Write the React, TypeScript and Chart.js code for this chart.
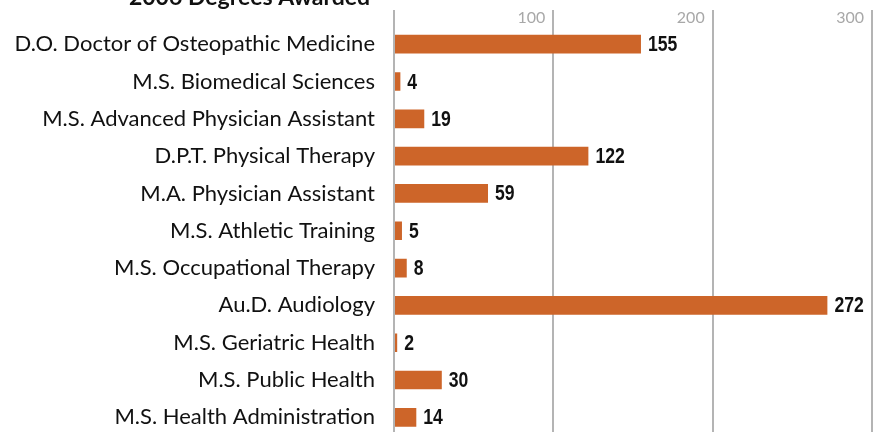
import React, { useEffect, useRef } from "react";
import { Chart, registerables } from "chart.js";

Chart.register(...registerables);

const TITLE = "2006 Degrees Awarded";

const categories = [
  "D.O. Doctor of Osteopathic Medicine",
  "M.S. Biomedical Sciences",
  "M.S. Advanced Physician Assistant",
  "D.P.T. Physical Therapy",
  "M.A. Physician Assistant",
  "M.S. Athletic Training",
  "M.S. Occupational Therapy",
  "Au.D. Audiology",
  "M.S. Geriatric Health",
  "M.S. Public Health",
  "M.S. Health Administration",
];

const degrees = [155, 4, 19, 122, 59, 5, 8, 272, 2, 30, 14];

const xTicks = [0, 100, 200, 300];

const BAR_COLOR = "#CD6529";
const GRID_COLOR = "#b4b4b4";

const valueLabels = {
  id: "valueLabels",
  afterDatasetsDraw(chart: any) {
    const ctx = chart.ctx;
    const meta = chart.getDatasetMeta(0);
    meta.data.forEach((bar: any, i: number) => {
      ctx.save();
      ctx.font = 'bold 22px "Liberation Sans", Arial, sans-serif';
      ctx.fillStyle = "#111";
      ctx.textAlign = "left";
      ctx.textBaseline = "middle";
      ctx.translate(bar.x + 7, bar.y + 1);
      ctx.scale(0.8, 1);
      ctx.fillText(String(degrees[i]), 0, 0);
      ctx.restore();
    });
  },
};

const topTitle = {
  id: "topTitle",
  afterDraw(chart: any) {
    const ctx = chart.ctx;
    ctx.save();
    ctx.font = "bold 23px Lato, sans-serif";
    ctx.fillStyle = "#111";
    ctx.textAlign = "center";
    ctx.textBaseline = "alphabetic";
    ctx.fillText(TITLE, chart.chartArea.left - 144.5, 5);
    ctx.restore();
  },
};

export default function App() {
  const ref = useRef<HTMLCanvasElement | null>(null);

  useEffect(() => {
    if (!ref.current) return;
    Chart.defaults.font.family = "Lato, sans-serif";
    const chart = new Chart(ref.current, {
      type: "bar",
      data: {
        labels: categories,
        datasets: [
          {
            data: degrees,
            backgroundColor: BAR_COLOR,
            borderWidth: 0,
            barPercentage: 0.5,
            categoryPercentage: 1,
          },
        ],
      },
      options: {
        indexAxis: "y",
        animation: false,
        responsive: true,
        maintainAspectRatio: false,
        layout: { padding: { top: 10, bottom: 4, left: 0, right: 2 } },
        plugins: {
          legend: { display: false },
          title: { display: false },
          tooltip: { enabled: false },
        },
        scales: {
          x: {
            position: "top",
            min: xTicks[0],
            max: xTicks[xTicks.length - 1],
            afterBuildTicks: (s: any) => {
              s.ticks = xTicks.map((v) => ({ value: v }));
            },
            afterFit: (s: any) => {
              s.height = 15.5;
              s.paddingLeft = 0;
              s.paddingRight = 0;
              s.paddingTop = 0;
              s.paddingBottom = 0;
            },
            grid: {
              color: GRID_COLOR,
              tickColor: GRID_COLOR,
              lineWidth: 2,
              drawTicks: true,
              tickLength: 15.5,
            },
            border: { display: false },
            ticks: {
              align: "end",
              padding: -17,
              color: "#a8a8a8",
              font: { size: 16, family: "Lato, sans-serif" },
              callback: (v: any) => (Number(v) === 0 ? "" : String(v) + "\u2002"),
            },
          },
          y: {
            afterFit: (s: any) => {
              s.width = 394;
              s.paddingTop = 0;
              s.paddingBottom = 0;
              s.paddingLeft = 0;
              s.paddingRight = 0;
            },
            grid: { display: false, drawTicks: false },
            border: { display: false },
            ticks: {
              autoSkip: false,
              padding: 19,
              color: "#111",
              font: { size: 22, family: "Lato, sans-serif" },
            },
          },
        },
      },
      plugins: [valueLabels, topTitle],
    });
    return () => chart.destroy();
  }, []);

  return (
    <div style={{ position: "fixed", left: 0, top: 0, width: 874, height: 440, background: "#fff" }}>
      <canvas ref={ref} />
    </div>
  );
}
